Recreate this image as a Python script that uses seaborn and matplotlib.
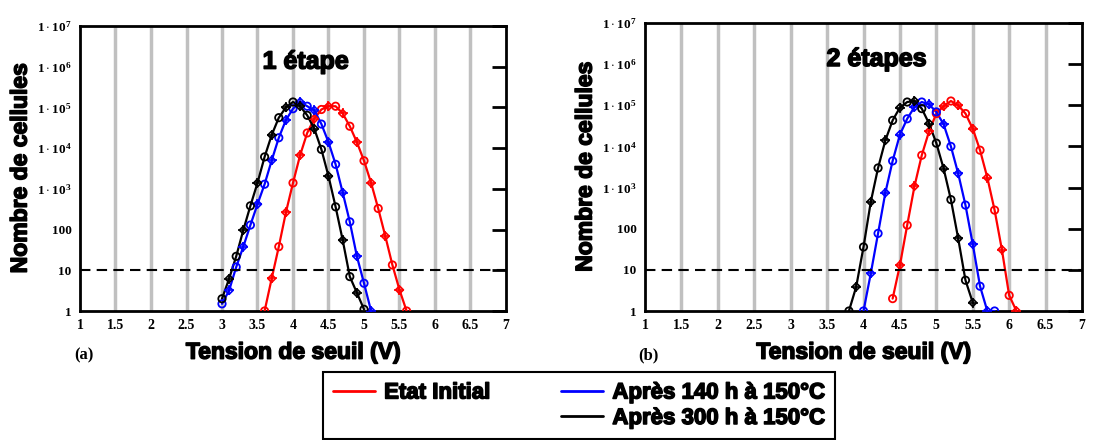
import matplotlib
matplotlib.use("Agg")
import matplotlib.pyplot as plt
from matplotlib.lines import Line2D
import matplotlib.patheffects as pe
import numpy as np
import pandas as pd
import seaborn as sns

# ---------------- data ----------------
series_names = ["Etat Initial", "Après 140 h à 150°C", "Après 300 h à 150°C"]
series_colors = ["#ff0000", "#0000ff", "#000000"]

# panel (a) : 1 étape
a_init_v = [3.6, 3.7, 3.8, 3.9, 4.0, 4.1, 4.2, 4.3, 4.4, 4.5, 4.6, 4.7, 4.8, 4.9, 5.0, 5.1, 5.2, 5.3, 5.4, 5.5, 5.6]
a_init_n = [1.0, 6.3, 38, 264, 1400, 6700, 23600, 53000, 89000, 107000, 107000, 71000, 34500, 14000, 4900, 1400, 330, 69, 13.5, 3.3, 1.0]
a_140_v = [3.0, 3.1, 3.2, 3.3, 3.4, 3.5, 3.6, 3.7, 3.8, 3.9, 4.0, 4.1, 4.2, 4.3, 4.4, 4.5, 4.6, 4.7, 4.8, 4.9, 5.0, 5.1]
a_140_n = [1.5, 3.2, 12, 38, 129, 420, 1300, 5000, 18000, 49000, 93000, 136000, 107000, 85000, 39000, 14000, 4000, 810, 155, 22, 4.8, 1.0]
a_300_v = [3.0, 3.1, 3.2, 3.3, 3.4, 3.5, 3.6, 3.7, 3.8, 3.9, 4.0, 4.1, 4.2, 4.3, 4.4, 4.5, 4.6, 4.7, 4.8, 4.9, 5.0]
a_300_n = [2.0, 6.2, 22, 97, 383, 1400, 6100, 21000, 56000, 100000, 136000, 107000, 64000, 30000, 9300, 2050, 362, 55, 7, 2.8, 1.1]

# panel (b) : 2 étapes
b_init_v = [4.4, 4.5, 4.6, 4.7, 4.8, 4.9, 5.0, 5.1, 5.2, 5.3, 5.4, 5.5, 5.6, 5.7, 5.8, 5.9, 6.0, 6.1]
b_init_n = [2.0, 13, 122, 1080, 6100, 23300, 63000, 95000, 127000, 100000, 63000, 27000, 8100, 1750, 283, 31, 2.4, 1.0]
b_140_v = [4.0, 4.1, 4.2, 4.3, 4.4, 4.5, 4.6, 4.7, 4.8, 4.9, 5.0, 5.1, 5.2, 5.3, 5.4, 5.5, 5.6, 5.7, 5.8]
b_140_n = [1.0, 8.2, 77, 750, 4450, 19400, 47000, 91000, 120000, 105000, 69000, 34500, 10000, 2200, 375, 42, 4.0, 1.0, 1.0]
b_300_v = [3.8, 3.9, 4.0, 4.1, 4.2, 4.3, 4.4, 4.5, 4.6, 4.7, 4.8, 4.9, 5.0, 5.1, 5.2, 5.3, 5.4, 5.5]
b_300_n = [1.0, 3.9, 36, 450, 3000, 14000, 43000, 88000, 120000, 127000, 83000, 36000, 12000, 2900, 510, 58, 5.6, 1.6]

x_ticks = [1, 1.5, 2, 2.5, 3, 3.5, 4, 4.5, 5, 5.5, 6, 6.5, 7]
x_tick_labels = ["1", "1.5", "2", "2.5", "3", "3.5", "4", "4.5", "5", "5.5", "6", "6.5", "7"]
y_ticks = [1, 10, 100, 1e3, 1e4, 1e5, 1e6, 1e7]
y_tick_labels = ["1", "10", "100", r"$1\cdot10^{3}$", r"$1\cdot10^{4}$", r"$1\cdot10^{5}$",
                 r"$1\cdot10^{6}$", r"$1\cdot10^{7}$"]
threshold = 10
panel_titles = ["1 étape", "2 étapes"]
panel_tags = ["(a)", "(b)"]

# ---------------- style ----------------
sns.set_theme(style="white")
plt.rcParams["font.family"] = ["Liberation Sans", "DejaVu Sans"]
plt.rcParams["mathtext.fontset"] = "custom"
plt.rcParams["mathtext.rm"] = "Liberation Serif:bold"
plt.rcParams["mathtext.it"] = "Liberation Serif:bold"
for key in ["text.color", "axes.labelcolor", "xtick.color", "ytick.color", "axes.edgecolor"]:
    plt.rcParams[key] = "black"

heavy = [pe.withStroke(linewidth=1.1, foreground="black")]

W, H = 1106, 440
fig = plt.figure(figsize=(W / 100, H / 100), dpi=100)

def frac(x0, y0, x1, y1):
    return [x0 / W, 1 - y1 / H, (x1 - x0) / W, (y1 - y0) / H]

axes = [fig.add_axes(frac(80, 26, 506, 311)), fig.add_axes(frac(645, 23, 1082, 311))]

panels = [
    [(a_init_v, a_init_n), (a_140_v, a_140_n), (a_300_v, a_300_n)],
    [(b_init_v, b_init_n), (b_140_v, b_140_n), (b_300_v, b_300_n)],
]

for k, ax in enumerate(axes):
    rows = []
    for name, (vs, ns) in zip(series_names, panels[k]):
        for i, (v, n) in enumerate(zip(vs, ns)):
            rows.append({"V": v, "N": n, "serie": name, "alt": i % 2})
    df = pd.DataFrame(rows)

    for xv in x_ticks[1:-1]:
        ax.axvline(xv, color="#c0c0c0", lw=2.5, zorder=0)

    sns.lineplot(data=df, x="V", y="N", hue="serie", hue_order=series_names,
                 palette=series_colors, estimator=None, sort=False, legend=False,
                 lw=1.6, ax=ax, zorder=3)
    for name, col in zip(series_names, series_colors):
        sub = df[df["serie"] == name]
        sns.scatterplot(data=sub[sub["alt"] == 0], x="V", y="N", marker="o", s=28,
                        facecolor="none", edgecolor=col, linewidth=1.3, ax=ax, zorder=4,
                        legend=False)
        sns.scatterplot(data=sub[sub["alt"] == 1], x="V", y="N", marker="D", s=16,
                        facecolor="none", edgecolor=col, linewidth=1.2, ax=ax, zorder=4,
                        legend=False)
        sns.scatterplot(data=sub[sub["alt"] == 1], x="V", y="N", marker="+", s=45,
                        color=col, linewidth=1.2, ax=ax, zorder=4, legend=False)

    ax.axhline(threshold, color="black", lw=1.5, ls=(0, (5, 3)), zorder=5)

    ax.set_yscale("log")
    ax.set_xlim(1, 7)
    ax.set_ylim(1, 1e7)
    ax.set_xticks(x_ticks)
    ax.set_xticklabels(x_tick_labels, family="Liberation Serif", fontweight="bold", fontsize=10)
    ax.set_yticks(y_ticks)
    ax.set_yticklabels(y_tick_labels, family="Liberation Serif", fontweight="bold", fontsize=9.5)
    ax.yaxis.set_minor_locator(matplotlib.ticker.NullLocator())
    ax.tick_params(axis="x", length=0, pad=6, colors="black")
    ax.tick_params(axis="y", which="major", left=False, right=True, labelleft=True,
                   labelright=False, direction="in", length=10, width=2, pad=6,
                   colors="black")
    for sp in ax.spines.values():
        sp.set_visible(True)
        sp.set_color("black")
        sp.set_linewidth(2)
    ax.grid(False)
    xl = ax.set_xlabel("Tension de seuil (V)", fontsize=16.5, fontweight="bold", labelpad=6)
    yl = ax.set_ylabel("Nombre de cellules", fontsize=16.5, fontweight="bold", labelpad=4)
    xl.set_path_effects(heavy)
    yl.set_path_effects(heavy)
    ax.text(0.53, 0.875, panel_titles[k], transform=ax.transAxes, ha="center", va="center",
            fontsize=18, fontweight="bold", path_effects=heavy)

fig.text(84 / W, 1 - 355 / H, panel_tags[0], ha="center", va="center",
         family="Liberation Serif", fontweight="bold", fontsize=12)
fig.text(648 / W, 1 - 355 / H, panel_tags[1], ha="center", va="center",
         family="Liberation Serif", fontweight="bold", fontsize=12)

handles = [Line2D([], [], color=series_colors[0], lw=2),
           Line2D([], [], color="none", lw=0),
           Line2D([], [], color=series_colors[1], lw=2),
           Line2D([], [], color=series_colors[2], lw=2)]
labels = [series_names[0], "", series_names[1], series_names[2]]
leg = fig.legend(handles, labels, ncol=2, loc="lower left",
                 bbox_to_anchor=(323 / W, 1 / H, (835 - 323) / W, (439 - 369) / H),
                 mode="expand", frameon=True, fancybox=False, framealpha=1,
                 edgecolor="black", handlelength=1.9, handletextpad=0.4,
                 labelspacing=0.2, borderpad=0.45, columnspacing=1.0, borderaxespad=0,
                 prop={"family": "Liberation Sans", "weight": "bold", "size": 16})
leg.get_frame().set_linewidth(1.5)
for t in leg.get_texts():
    t.set_path_effects(heavy)

fig.savefig("out.png", dpi=100)
